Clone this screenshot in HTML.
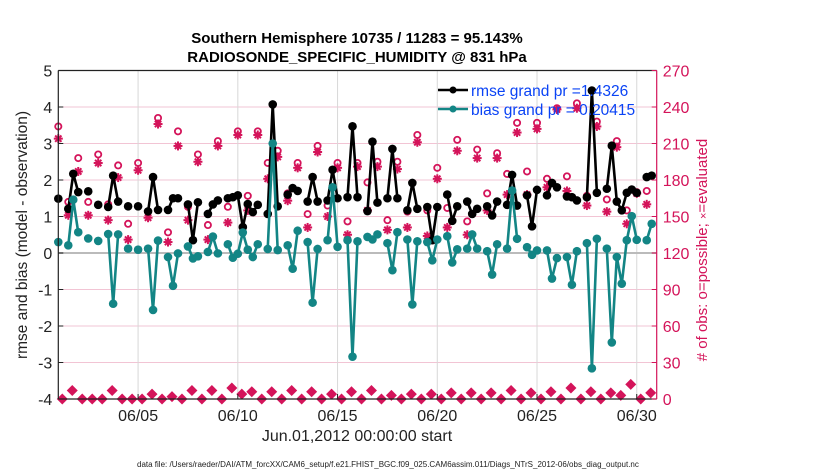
<!DOCTYPE html>
<html><head><meta charset="utf-8"><style>
html,body{margin:0;padding:0;background:#fff;}
svg{display:block;font-family:"Liberation Sans",Arial,sans-serif;}
</style></head><body>
<svg id="chart" width="830" height="470" viewBox="0 0 830 470">
<text x="357" y="43" text-anchor="middle" font-size="15" font-weight="bold">Southern Hemisphere 10735 / 11283 = 95.143%</text>
<text x="357" y="62" text-anchor="middle" font-size="15" font-weight="bold">RADIOSONDE_SPECIFIC_HUMIDITY @ 831 hPa</text>
<g id="grid"></g>
<g id="marks"></g>
<g id="axes"></g>
<text transform="translate(27,235) rotate(-90)" text-anchor="middle" font-size="15.5" fill="#222">rmse and bias (model - observation)</text>
<text transform="translate(707,250) rotate(-90)" text-anchor="middle" font-size="15" fill="#d4145a"># of obs: o=possible; <tspan font-size="11">×</tspan>=evaluated</text>
<text x="357" y="441" text-anchor="middle" font-size="16" fill="#222">Jun.01,2012 00:00:00 start</text>
<text x="137" y="467" font-size="8" fill="#222">data file: /Users/raeder/DAI/ATM_forcXX/CAM6_setup/f.e21.FHIST_BGC.f09_025.CAM6assim.011/Diags_NTrS_2012-06/obs_diag_output.nc</text>
<g>
<line x1="438" y1="90" x2="468" y2="90" stroke="#000" stroke-width="2.5"/><circle cx="453" cy="90" r="3.5" fill="#000"/>
<text x="471" y="96" font-size="15.5" fill="#0a43f5">rmse grand pr =1.4326</text>
<line x1="438" y1="109" x2="468" y2="109" stroke="#138585" stroke-width="2.5"/><circle cx="453" cy="109" r="3.5" fill="#138585"/>
<text x="471" y="115" font-size="15.5" fill="#0a43f5">bias grand pr = 0.20415</text>
</g>
</svg>
<script>
const slots=[0,2,3,4,6,8,10,11,12,14,16,18,19,20,22,23,24,26,27,28,30,31,32,34,35,36,37,38,39,40,42,43,44,46,47,48,50,51,52,54,55,56,58,59,60,62,63,64,66,67,68,70,71,72,74,75,76,78,79,80,82,83,84,86,87,88,90,91,92,94,95,96,98,99,100,102,103,104,106,107,108,110,111,112,113,114,115,116,118,119];
const rmse=[1.49,1.21,2.17,1.67,1.69,1.32,1.26,2.12,1.41,1.28,1.28,1.14,2.08,1.18,1.18,1.50,1.50,1.33,0.35,1.39,1.07,1.33,1.44,1.50,1.53,1.58,0.71,1.34,1.12,1.32,1.07,4.07,1.28,1.6,1.78,1.70,1.41,2.08,1.41,1.44,2.28,1.50,1.53,3.47,1.53,1.15,3.05,1.38,1.50,2.85,1.50,1.17,1.92,1.21,1.26,0.35,1.26,1.60,0.88,1.28,1.41,1.07,1.21,1.28,1.03,1.41,1.32,2.14,1.30,1.58,0.73,1.73,1.58,1.92,1.80,1.55,1.53,1.44,1.53,4.45,1.65,1.76,2.94,1.41,1.17,1.65,1.74,1.65,2.08,2.12];
const bias=[0.30,0.21,1.46,0.57,0.40,0.33,0.52,-1.39,0.51,0.12,0.09,0.12,-1.56,0.34,-0.11,-0.90,-0.01,0.18,-0.15,-0.09,0.03,0.45,-0.01,0.24,-0.13,-0.02,0.56,0.09,-0.11,0.24,0.11,3.00,0.08,0.21,-0.43,0.61,0.30,-1.36,0.11,0.35,1.80,0.17,0.35,-2.84,0.32,0.44,0.37,0.51,0.27,-0.47,0.57,0.37,-1.41,0.32,0.30,-0.20,0.37,0.46,-0.26,0.10,0.12,0.51,0.12,0.05,-0.59,0.24,0.12,1.71,0.39,0.16,-0.05,0.07,0.07,-0.70,-0.14,-0.11,-0.87,0.05,0.27,-3.16,0.39,0.12,-2.45,-0.11,-0.84,0.35,1.01,0.36,0.35,0.80];
const possible=[224,162,198,162,201,160,192,144,194,154,231,137,220,158,201,143,212,158,220,167,220,194,204,169,194,152,208,159,194,146,194,178,195,147,195,154,217,155,190,157,213,146,205,169,202,185,227,187,227,181,239,183,243,167,228,164,212,155,170,171];
const evaluated=[214,151,187,151,194,147,182,131,188,149,226,129,208,147,195,131,208,145,217,155,217,181,199,163,190,141,203,150,190,135,191,155,191,139,189,141,211,134,181,141,204,135,198,155,198,168,219,168,222,174,238,171,239,159,224,154,207,144,169,160];
const rejected=[0,7,0,0,0,7,0,0,0,4,0,2,0,7,0,7,0,9,4,6,0,6,0,7,0,6,0,4,0,6,0,7,0,3,0,4,0,4,0,5,0,5,0,5,0,7,0,5,0,6,0,9,0,6,0,5,3,12,0,5];
const xTickDays=[4,9,14,19,24,29];
const xTickLabels=["06/05","06/10","06/15","06/20","06/25","06/30"];
const yTicks=[-4,-3,-2,-1,0,1,2,3,4,5];
const rTicks=[0,30,60,90,120,150,180,210,240,270];

const X0=58.3,X1=656.7,Y0=70.5,Y1=399;
const xDay=d=>X0+(d/30)*(X1-X0);
const xSlot=s=>xDay(s/4);
const yL=v=>Y0+(5-v)/9*(Y1-Y0);
const yR=c=>Y1-c/270*(Y1-Y0);
const NS='http://www.w3.org/2000/svg';
function mk(tag,attrs,parent){const e=document.createElementNS(NS,tag);for(const k in attrs)e.setAttribute(k,attrs[k]);parent.appendChild(e);return e;}
const grid=document.getElementById('grid'),marks=document.getElementById('marks'),axes=document.getElementById('axes');
const MAG='#d4145a',TEAL='#138585';

yTicks.forEach(v=>{if(v===0||v===5||v===-4)return;const l=mk('line',{x1:X0,x2:X1,y1:yL(v),y2:yL(v),stroke:'#f2c4d4','stroke-width':1},grid);

});
xTickDays.forEach(d=>{const l=mk('line',{x1:xDay(d),x2:xDay(d),y1:Y0,y2:Y1,stroke:'#d8d8d8','stroke-width':1},grid);

});
const zl=mk('line',{x1:X0,x2:X1,y1:yL(0),y2:yL(0),stroke:'#bbb','stroke-width':2},grid);



function series(vals,color,name){
  let d='';for(let i=0;i<slots.length;i++){const cmd=(i>0&&slots[i]-slots[i-1]===1)?'L':'M';d+=cmd+xSlot(slots[i]).toFixed(1)+' '+yL(vals[i]).toFixed(1)+' ';}
  const p=mk('path',{d:d,fill:'none',stroke:color,'stroke-width':2.6,'stroke-linejoin':'round'},marks);
  
  
  vals.forEach((v,i)=>{const c=mk('circle',{cx:xSlot(slots[i]),cy:yL(v),r:4.3,fill:color},marks);
  
  });
}
possible.forEach((c,i)=>{const e=mk('circle',{cx:xSlot(i*2),cy:yR(c),r:3.1,fill:'none',stroke:MAG,'stroke-width':1.8},marks);

});
evaluated.forEach((c,i)=>{const x=xSlot(i*2),y=yR(c),r=4.5;const g=mk('g',{stroke:MAG,'stroke-width':2},marks);


mk('line',{x1:x-r,x2:x+r,y1:y,y2:y},g);mk('line',{x1:x,x2:x,y1:y-r,y2:y+r},g);
mk('line',{x1:x-r*.7,x2:x+r*.7,y1:y-r*.7,y2:y+r*.7},g);mk('line',{x1:x-r*.7,x2:x+r*.7,y1:y+r*.7,y2:y-r*.7},g);});
rejected.forEach((c,i)=>{const x=xSlot(i*2+1)-1,y=yR(c),r=5.5;const p=mk('polygon',{points:`${x},${y-r} ${x+r},${y} ${x},${y+r} ${x-r},${y}`,fill:MAG},marks);

});
series(rmse,'#000','rmse');
series(bias,TEAL,'bias');

const box=[['line',{x1:X0,x2:X0,y1:Y0,y2:Y1,stroke:'#222'}],['line',{x1:X0,x2:X1,y1:Y0,y2:Y0,stroke:'#222'}],['line',{x1:X0,x2:X1,y1:Y1,y2:Y1,stroke:'#222'}],['line',{x1:X1,x2:X1,y1:Y0,y2:Y1,stroke:MAG}]];
box.forEach(b=>{const e=mk(b[0],Object.assign({'stroke-width':1.2},b[1]),axes);

});
yTicks.forEach(v=>{mk('line',{x1:X0,x2:X0+5,y1:yL(v),y2:yL(v),stroke:'#222'},axes);
const t=mk('text',{x:X0-6,y:yL(v)+6,'text-anchor':'end','font-size':16,fill:'#222'},axes);t.textContent=v;

});
rTicks.forEach(v=>{mk('line',{x1:X1-5,x2:X1,y1:yR(v),y2:yR(v),stroke:MAG},axes);
const t=mk('text',{x:X1+6,y:yR(v)+6,'font-size':16,fill:MAG},axes);t.textContent=v;

});
xTickDays.forEach((d,i)=>{mk('line',{x1:xDay(d),x2:xDay(d),y1:Y1-5,y2:Y1,stroke:'#222'},axes);
const t=mk('text',{x:xDay(d),y:421,'text-anchor':'middle','font-size':16,fill:'#222'},axes);t.textContent=xTickLabels[i];

});
</script>
</body></html>
